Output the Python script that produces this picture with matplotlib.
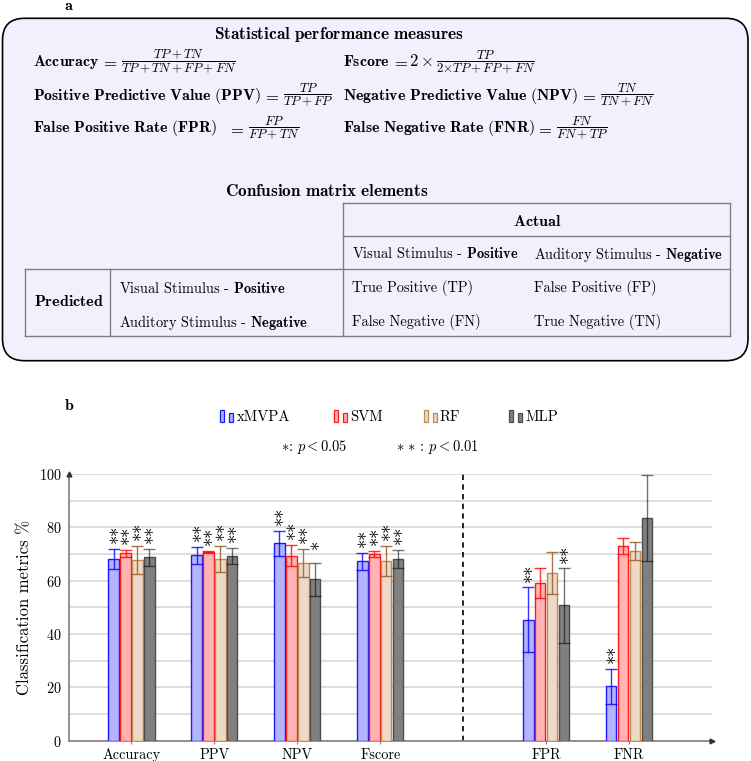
import numpy as np
import matplotlib
matplotlib.use("Agg")
import matplotlib.pyplot as plt
from matplotlib.patches import FancyBboxPatch, Rectangle

# ---------------- data ----------------
categories = ["Accuracy", "PPV", "NPV", "Fscore", "FPR", "FNR"]
n_left = 4  # categories left of the dashed separator
models = ["xMVPA", "SVM", "RF", "MLP"]

xmvpa_mean = [68.0, 69.5, 74.0, 67.3, 45.3, 20.4]
xmvpa_err = [3.8, 3.2, 4.6, 3.2, 12.2, 6.6]
svm_mean = [70.2, 70.7, 69.4, 70.0, 59.1, 73.0]
svm_err = [1.3, 0.5, 4.0, 1.3, 5.5, 2.9]
rf_mean = [67.8, 68.1, 66.6, 67.4, 62.8, 71.1]
rf_err = [5.3, 4.9, 5.4, 5.6, 7.8, 3.4]
mlp_mean = [68.7, 69.2, 60.5, 68.1, 50.7, 83.6]
mlp_err = [3.2, 3.0, 6.2, 3.5, 13.9, 16.2]

xmvpa_sig = ["**", "**", "**", "**", "**", "**"]
svm_sig = ["**", "**", "**", "**", "", ""]
rf_sig = ["**", "**", "**", "**", "", ""]
mlp_sig = ["**", "**", "*", "**", "**", ""]

yticks = [0, 20, 40, 60, 80, 100]

means = [xmvpa_mean, svm_mean, rf_mean, mlp_mean]
errs = [xmvpa_err, svm_err, rf_err, mlp_err]
sigs = [xmvpa_sig, svm_sig, rf_sig, mlp_sig]

fills = ["#b3b3ff", "#ffb3b3", "#ecd9c6", "#808080"]
edges = ["#1a1aff", "#ff1a1a", "#bf8a55", "#4d4d4d"]
ecols = [(0, 0, 1, 0.8), (1, 0, 0, 0.8), (0.6, 0.4, 0.2, 0.9), (0, 0, 0, 0.55)]

# ---------------- style ----------------
plt.rcParams.update({
    "font.family": "cmr10",
    "mathtext.fontset": "cm",
    "axes.formatter.use_mathtext": True,
    "axes.unicode_minus": False,
    "font.size": 10,
})

W, H = 751, 761
fig = plt.figure(figsize=(W / 100, H / 100), dpi=100)
renderer = fig.canvas.get_renderer()

# overlay in pixel coordinates for panel a and legend
ax0 = fig.add_axes([0, 0, 1, 1], zorder=0)
ax0.set_xlim(0, W)
ax0.set_ylim(H, 0)
ax0.axis("off")


def text_width(s, size):
    t = ax0.text(0, 0, s, fontsize=size)
    w = t.get_window_extent(renderer=renderer).width
    t.remove()
    return w


FS = 10.4
ax0.text(69, 6, r"$\mathbf{a}$", fontsize=11.5, ha="center", va="center")
ax0.text(69, 405, r"$\mathbf{b}$", fontsize=11.5, ha="center", va="center")

box = FancyBboxPatch((2.5, 18.3), 745.5, 342.4,
                     boxstyle="round,pad=0,rounding_size=22",
                     facecolor="#f1f1fd", edgecolor="black", linewidth=1.2)
ax0.add_patch(box)

ax0.text(339, 35, r"$\mathbf{Statistical\ performance\ measures}$",
         fontsize=12.4, ha="center", va="center")

formulas = [
    (r"$\mathbf{Accuracy}$", r"$\dfrac{TP+TN}{TP+TN+FP+FN}$", 0),
    (r"$\mathbf{Positive\ Predictive\ Value\ (PPV)}$", r"$\dfrac{TP}{TP+FP}$", 0),
    (r"$\mathbf{False\ Positive\ Rate\ (FPR)}$", r"$\dfrac{FP}{FP+TN}$", 9),
    (r"$\mathbf{Fscore}$", r"$\dfrac{TP}{2{\times}TP+FP+FN}$", 0),
    (r"$\mathbf{Negative\ Predictive\ Value\ (NPV)}$", r"$\dfrac{TN}{TN+FN}$", 0),
    (r"$\mathbf{False\ Negative\ Rate\ (FNR)}$", r"$\dfrac{FN}{FN+TP}$", 0),
]
col_x = [33.3, 33.3, 33.3, 343.0, 343.0, 343.0]
rows_y = [62, 95.5, 128.5, 62, 95.5, 128.5]
# one label size for all rows, matched to the PPV label width (228 px)
lab_size = 10 * 228.0 / text_width(formulas[1][0], 10)
frac_size = 9.3

for (lab, frac, extra), x, y in zip(formulas, col_x, rows_y):
    t = ax0.text(x, y, lab, fontsize=lab_size, ha="left", va="center")
    x1 = t.get_window_extent(renderer=renderer).x1
    xeq = x1 + 10.3 + extra
    ax0.text(xeq, y - 0.5, r"$=$", fontsize=12, ha="center", va="center")
    xf = xeq + 11.5
    if "2{\\times}" in frac:
        t2 = ax0.text(xf - 3, y - 0.5, r"$2\times$", fontsize=12, ha="left", va="center")
        xf = t2.get_window_extent(renderer=renderer).x1 + 4
    ax0.text(xf, y - 0.5, frac, fontsize=frac_size, ha="left", va="center")

ax0.text(326.7, 191.5, r"$\mathbf{Confusion\ matrix\ elements}$",
         fontsize=12.4, ha="center", va="center")

lc = "#7d7d88"
lw = 1.0
# horizontal lines
ax0.plot([342.7, 730], [202.7, 202.7], color=lc, lw=lw)
ax0.plot([342.7, 730], [235.7, 235.7], color=lc, lw=lw)
ax0.plot([25, 730], [269.3, 269.3], color=lc, lw=lw)
ax0.plot([25, 730], [336.2, 336.2], color=lc, lw=lw)
# vertical lines
ax0.plot([25, 25], [269.3, 336.2], color=lc, lw=lw)
ax0.plot([110.3, 110.3], [269.3, 336.2], color=lc, lw=lw)
ax0.plot([342.7, 342.7], [202.7, 336.2], color=lc, lw=lw)
ax0.plot([730, 730], [202.7, 336.2], color=lc, lw=lw)

ax0.text(536.7, 221.5, r"$\mathbf{Actual}$", fontsize=11.5, ha="center", va="center")
ax0.text(34.3, 302, r"$\mathbf{Predicted}$", fontsize=11.5, ha="left", va="center")
ax0.text(351.7, 254, r"Visual Stimulus - $\mathbf{Positive}$", fontsize=FS, ha="left", va="center")
ax0.text(534.3, 254, r"Auditory Stimulus - $\mathbf{Negative}$", fontsize=FS, ha="left", va="center")
ax0.text(119.3, 288.5, r"Visual Stimulus - $\mathbf{Positive}$", fontsize=FS, ha="left", va="center")
ax0.text(119.3, 322.5, r"Auditory Stimulus - $\mathbf{Negative}$", fontsize=FS, ha="left", va="center")
ax0.text(351.7, 288.5, "True Positive (TP)", fontsize=FS, ha="left", va="center")
ax0.text(534.3, 288.5, "False Positive (FP)", fontsize=FS, ha="left", va="center")
ax0.text(351.7, 322.5, "False Negative (FN)", fontsize=FS, ha="left", va="center")
ax0.text(534.3, 322.5, "True Negative (TN)", fontsize=FS, ha="left", va="center")

# legend (drawn in pixel space)
leg_x = [236.7, 350, 440, 525.7]
for name, x, fc, ec in zip(models, leg_x, fills, edges):
    ax0.add_patch(Rectangle((x - 16.5, 409.5), 4, 12.2, facecolor=fc, edgecolor=ec, lw=0.9))
    ax0.add_patch(Rectangle((x - 7.5, 412.7), 4, 9.0, facecolor=fc, edgecolor=ec, lw=0.9))
    ax0.text(x, 417.5, name, fontsize=10.6, ha="left", va="center")
ax0.text(281, 447.3, r"$\ast$: $p < 0.05$", fontsize=10.4, ha="left", va="center")
ax0.text(395.7, 447.3, r"$\ast\,\ast\,$: $p < 0.01$", fontsize=10.4, ha="left", va="center")

# ---------------- bar chart ----------------
ax = fig.add_axes([69 / W, (H - 740.7) / H, 643 / W, 266.7 / H], zorder=1)
ax.patch.set_alpha(0)

pos = np.array([i + 1 if i < n_left else i + 2 for i in range(len(categories))], dtype=float)
step = 0.1434
bw = 0.1266
offsets = (np.arange(len(models)) - 1.5) * step

for k in range(len(models)):
    xs = pos + offsets[k]
    ax.bar(xs, means[k], bw, color=fills[k], edgecolor=edges[k], linewidth=1.0,
           zorder=3,
           yerr=errs[k], error_kw=dict(ecolor=ecols[k], elinewidth=1.0,
                                       capsize=4.3, capthick=1.0, zorder=4))
    for xi, m, e, s in zip(xs, means[k], errs[k], sigs[k]):
        top = m + e
        if s == "**":
            ax.text(xi, top + 4.9, r"${\ast}\hspace{-0.06}{\ast}$", fontsize=13.5,
                    rotation=90, ha="center", va="center", zorder=5)
        elif s == "*":
            ax.text(xi, top + 6.3, r"${\ast}$", fontsize=13.5,
                    rotation=90, ha="center", va="center", zorder=5)

ax.axvline(n_left + 1, color="black", lw=1.2, ls=(0, (3.2, 2.6)), zorder=2)

ax.set_xlim(0.247, 8.0)
ax.set_ylim(0, 100)
ax.set_yticks(yticks)
ax.set_yticks(np.arange(10, 100, 20), minor=True)
ax.grid(True, which="both", axis="y", color="#d4d4d4", lw=1.1, zorder=0)
ax.set_axisbelow(True)
ax.set_xticks(pos)
ax.set_xticklabels(categories)
for sp in ["top", "right"]:
    ax.spines[sp].set_visible(False)
for sp in ["left", "bottom"]:
    ax.spines[sp].set_color("#808080")
    ax.spines[sp].set_linewidth(1.2)
ax.tick_params(axis="y", which="both", length=0, pad=5.5, labelsize=10.3)
ax.tick_params(axis="x", length=2.5, direction="out", color="#808080", pad=3, labelsize=10.3)
ax.plot([1], [0], marker=">", transform=ax.transAxes, clip_on=False,
        ms=3.5, color="#333333", zorder=6)
ax.plot([0], [1], marker="^", transform=ax.transAxes, clip_on=False,
        ms=3.5, color="#333333", zorder=6)
ax.set_ylabel("Classification metrics %", fontsize=12, va="center")
ax.yaxis.set_label_coords((25 - 69) / 643, 0.5)

fig.savefig("out.png", dpi=100)
